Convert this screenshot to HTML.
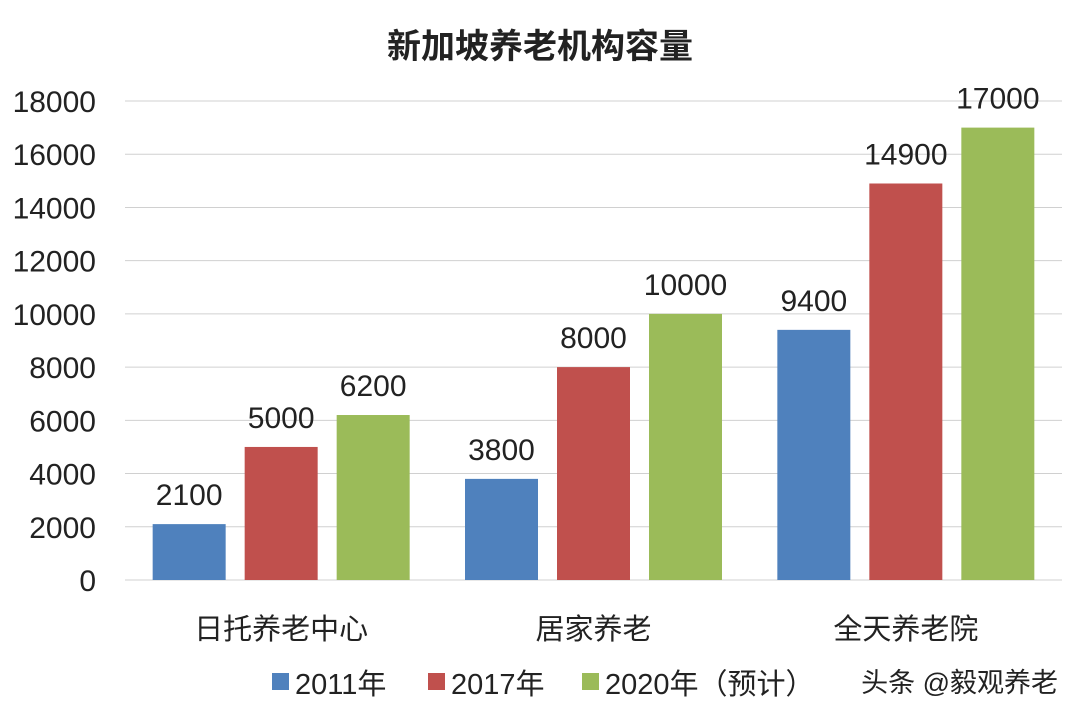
<!DOCTYPE html>
<html><head><meta charset="utf-8"><style>
html,body{margin:0;padding:0;background:#fff;}
body{width:1080px;height:716px;overflow:hidden;font-family:"Liberation Sans","Noto Sans CJK SC",sans-serif;}
</style></head><body>
<svg id="chart" width="1080" height="716" xmlns="http://www.w3.org/2000/svg" font-family="Liberation Sans, Noto Sans CJK SC, sans-serif">
<text x="540" y="58" text-anchor="middle" font-size="34" font-weight="bold" fill="#222">新加坡养老机构容量</text>
<g id="grid"></g><g id="bars"></g>
<g font-size="29" fill="#222">
<rect x="272" y="673" width="17" height="17" fill="#4f81bd"/>
<text x="295" y="694">2011年</text>
<rect x="428" y="673" width="17" height="17" fill="#c0504d"/>
<text x="451" y="694">2017年</text>
<rect x="582" y="673" width="17" height="17" fill="#9bbb59"/>
<text x="605" y="694">2020年（预计）</text>
</g>
<text x="1058" y="692" text-anchor="end" font-size="27" fill="#222">头条 @毅观养老</text>
</svg>
<script>
const categories=["日托养老中心","居家养老","全天养老院"];
const seriesNames=["2011年","2017年","2020年（预计）"];
const s2011=[2100,3800,9400];
const s2017=[5000,8000,14900];
const s2020=[6200,10000,17000];
const yTicks=[0,2000,4000,6000,8000,10000,12000,14000,16000,18000];
const colors=["#4f81bd","#c0504d","#9bbb59"];
const NS="http://www.w3.org/2000/svg";
const L=125,R=1062,T=101,B=580,yMax=18000;
function y(v){return B-(v/yMax)*(B-T);}
const gw=(R-L)/categories.length;
function gx(i){return L+gw*i;}
function mk(t,a,p){const e=document.createElementNS(NS,t);for(const k in a)e.setAttribute(k,a[k]);p.appendChild(e);return e;}
const grid=document.getElementById('grid'),bars=document.getElementById('bars');
yTicks.forEach(v=>{
 const l=mk('line',{x1:L,x2:R,y1:y(v),y2:y(v),stroke:'#d0d0d0','stroke-width':1},grid);
 
 
 const t=mk('text',{x:96,y:y(v)+11,'text-anchor':'end','font-size':30,fill:'#222'},grid);
 t.textContent=v;
 
 
});
const series=[s2011,s2017,s2020];
const bw=73,gap=19;
categories.forEach((c,i)=>{
 const cx=gx(i)+gw/2;
 series.forEach((s,j)=>{
  const x=cx+(j-1)*(bw+gap)-bw/2;
  const r=mk('rect',{x:x,y:y(s[i]),width:bw,height:B-y(s[i]),fill:colors[j]},bars);
  
  
  const t=mk('text',{x:x+bw/2,y:y(s[i])-19,'text-anchor':'middle','font-size':30,fill:'#222'},bars);
  t.textContent=s[i];
  
  
 });
 const ct=mk('text',{x:cx,y:639,'text-anchor':'middle','font-size':29,fill:'#222'},bars);
 ct.textContent=c;
 
 
});
</script>
</body></html>
